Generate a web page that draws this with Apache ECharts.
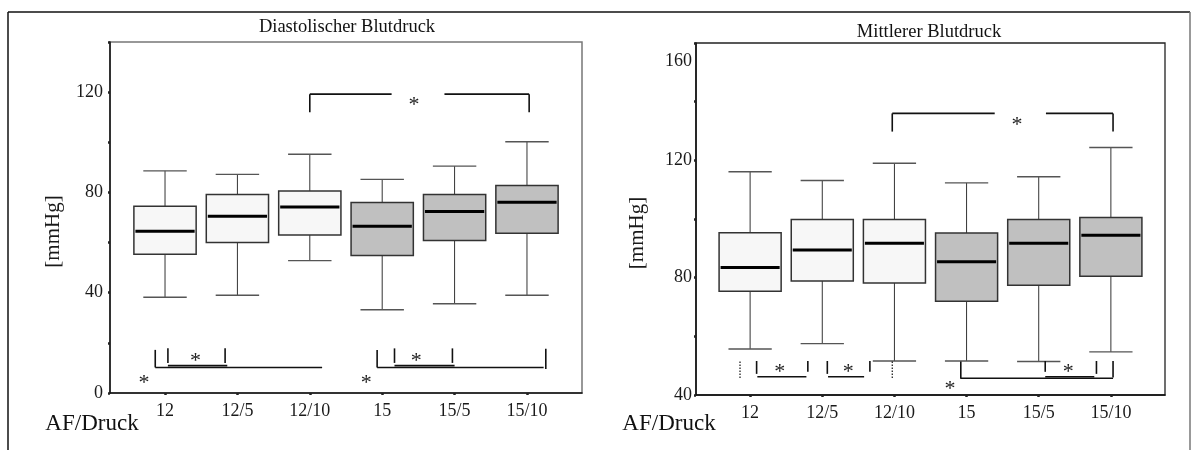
<!DOCTYPE html>
<html>
<head>
<meta charset="utf-8">
<script src="https://cdn.jsdelivr.net/npm/echarts/dist/echarts.min.js"></script>
<style>html,body{margin:0;padding:0;background:#fff}#chart{width:1191px;height:450px}</style>
</head>
<body>
<div id="chart"></div>
<script>
// ---------- data ----------
const categories = ['12', '12/5', '12/10', '15', '15/5', '15/10'];

// Diastolischer Blutdruck (mmHg)
const diaLow    = [38.2, 39.0, 52.8, 33.2, 35.6, 39.0];
const diaQ1     = [55.3, 60.0, 63.0, 54.8, 60.8, 63.7];
const diaMedian = [64.5, 70.5, 74.2, 66.5, 72.4, 76.1];
const diaQ3     = [74.5, 79.2, 80.6, 76.0, 79.2, 82.8];
const diaHigh   = [88.6, 87.2, 95.2, 85.2, 90.5, 100.2];

// Mittlerer Blutdruck (mmHg)
const meanLow    = [55.7, 57.5, 51.6, 51.6, 51.4, 54.7];
const meanQ1     = [75.4, 78.9, 78.2, 72.0, 77.4, 80.5];
const meanMedian = [83.5, 89.4, 91.7, 85.4, 91.7, 94.5];
const meanQ3     = [95.3, 99.8, 99.8, 95.2, 99.8, 100.5];
const meanHigh   = [116.1, 113.1, 119.0, 112.3, 114.4, 124.4];

// tick labels
const diaTickLabels  = [0, 40, 80, 120];
const meanTickLabels = [40, 80, 120, 160];

// significance brackets: [x1, y1, x2, y2] in (category index, mmHg)
const diaBrackets = [
  [2, 112, 2, 119.2], [2, 119.2, 3.13, 119.2], [3.86, 119.2, 5.03, 119.2], [5.03, 119.2, 5.03, 112],
  [-0.135, 17.2, -0.135, 10.2], [-0.135, 10.2, 2.17, 10.2],
  [0.04, 17.8, 0.04, 12], [0.04, 10.9, 0.86, 10.9], [0.83, 17.8, 0.83, 12],
  [2.93, 17.2, 2.93, 10.2], [2.93, 10.2, 5.23, 10.2], [5.26, 17.6, 5.26, 9.6],
  [3.17, 17.8, 3.17, 12], [3.17, 10.9, 4.0, 10.9], [3.97, 17.8, 3.97, 12]
];
const diaStars = [[3.44, 116.2], [0.42, 14.2], [-0.29, 5.6], [3.47, 14.2], [2.78, 5.6]];

const meanBrackets = [
  [1.97, 129.8, 1.97, 136], [1.97, 136, 3.39, 136], [4.10, 136, 5.03, 136], [5.03, 136, 5.03, 129.8],
  [0.09, 51.6, 0.09, 47.2], [0.10, 46.2, 0.78, 46.2], [0.80, 51.6, 0.80, 47.9],
  [1.07, 51.6, 1.07, 47.2], [1.08, 46.2, 1.58, 46.2], [1.66, 51.6, 1.66, 47.9],
  [2.92, 51.4, 2.92, 45.5], [2.92, 45.7, 5.03, 45.7], [5.03, 51.6, 5.03, 46.0],
  [4.09, 51.6, 4.09, 47.9], [4.09, 46.2, 4.77, 46.2], [4.80, 51.6, 4.80, 47.2]
];
const meanDotted = [[-0.14, 51.4, -0.14, 45.4], [1.97, 51.4, 1.97, 45.4]];
const meanStars = [[3.70, 133.2], [0.41, 49.1], [1.36, 49.1], [4.41, 49.1], [2.77, 43.4]];

// ---------- rendering ----------
const FONT = '"Liberation Serif", "Times New Roman", serif';
const LIGHT = '#f7f7f7', DARK = '#c0c0c0';

function boxData(lo, q1, med, q3, hi) {
  return categories.map((c, i) => [i, lo[i], q1[i], med[i], q3[i], hi[i]]);
}

function renderBox(params, api) {
  const i = api.value(0);
  const pLo = api.coord([i, api.value(1)]);
  const pQ1 = api.coord([i, api.value(2)]);
  const pMed = api.coord([i, api.value(3)]);
  const pQ3 = api.coord([i, api.value(4)]);
  const pHi = api.coord([i, api.value(5)]);
  const unit = api.size([1, 0])[0];
  const cx = pLo[0];
  const hw = unit * 0.43, cw = unit * 0.3;
  const fill = i < 3 ? LIGHT : DARK;
  return {
    type: 'group',
    children: [
      { type: 'line', shape: { x1: cx, y1: pQ3[1], x2: cx, y2: pHi[1] }, style: { stroke: '#333', lineWidth: 1 } },
      { type: 'line', shape: { x1: cx, y1: pQ1[1], x2: cx, y2: pLo[1] }, style: { stroke: '#333', lineWidth: 1 } },
      { type: 'line', shape: { x1: cx - cw, y1: pHi[1], x2: cx + cw, y2: pHi[1] }, style: { stroke: '#555', lineWidth: 1.4 } },
      { type: 'line', shape: { x1: cx - cw, y1: pLo[1], x2: cx + cw, y2: pLo[1] }, style: { stroke: '#555', lineWidth: 1.4 } },
      { type: 'rect', shape: { x: cx - hw, y: pQ3[1], width: 2 * hw, height: pQ1[1] - pQ3[1] }, style: { fill: fill, stroke: '#333', lineWidth: 1.5 } },
      { type: 'line', shape: { x1: cx - hw + 1.5, y1: pMed[1], x2: cx + hw - 1.5, y2: pMed[1] }, style: { stroke: '#000', lineWidth: 3 } }
    ]
  };
}

function renderSeg(dash) {
  return function (params, api) {
    const a = api.coord([api.value(0), api.value(1)]);
    const b = api.coord([api.value(2), api.value(3)]);
    return { type: 'line', shape: { x1: a[0], y1: a[1], x2: b[0], y2: b[1] },
      style: { stroke: '#111', lineWidth: dash ? 1.2 : 1.6, lineDash: dash ? [1.5, 1.5] : null } };
  };
}

function renderStar(params, api) {
  const p = api.coord([api.value(0), api.value(1)]);
  return { type: 'text', x: p[0], y: p[1] + 4,
    style: { text: '*', fontFamily: FONT, fontSize: 22, fill: '#222', align: 'center', verticalAlign: 'middle' } };
}

const labelStyle = { fontFamily: FONT, fontSize: 18, color: '#1a1a1a' };

const option = {
  animation: false,
  backgroundColor: '#fff',
  grid: [
    { left: 110, right: 609, top: 42, bottom: 57, show: true, borderColor: '#777', borderWidth: 1.5, backgroundColor: 'transparent' },
    { left: 696, right: 26, top: 43, bottom: 55, show: true, borderColor: '#222', borderWidth: 1.3, backgroundColor: 'transparent' }
  ],
  xAxis: [
    { gridIndex: 0, type: 'value', min: -0.76, max: 5.76,
      axisLine: { show: true, onZero: false, lineStyle: { color: '#111', width: 1.5 } },
      axisTick: { show: true, customValues: [0, 1, 2, 3, 4, 5], length: 2, lineStyle: { color: '#222', width: 2.5 } },
      axisLabel: { customValues: [0, 1, 2, 3, 4, 5], formatter: v => categories[Math.round(v)], margin: 9, ...labelStyle },
      splitLine: { show: false } },
    { gridIndex: 1, type: 'value', min: -0.75, max: 5.75,
      axisLine: { show: true, onZero: false, lineStyle: { color: '#111', width: 1.5 } },
      axisTick: { show: true, customValues: [0, 1, 2, 3, 4, 5], length: 2, lineStyle: { color: '#222', width: 2.5 } },
      axisLabel: { customValues: [0, 1, 2, 3, 4, 5], formatter: v => categories[Math.round(v)], margin: 9, ...labelStyle },
      splitLine: { show: false } }
  ],
  yAxis: [
    { gridIndex: 0, type: 'value', min: 0, max: 140, interval: 20,
      axisLine: { show: true, onZero: false, lineStyle: { color: '#111', width: 1.5 } },
      axisTick: { show: true, length: 2, lineStyle: { color: '#222', width: 2.5 } },
      axisLabel: { customValues: diaTickLabels, margin: 7, ...labelStyle },
      splitLine: { show: false },
      name: '[mmHg]', nameLocation: 'middle', nameRotate: 90, nameGap: 46,
      nameTextStyle: { fontFamily: FONT, fontSize: 21, color: '#1a1a1a', padding: [0, 28, 0, 0] } },
    { gridIndex: 1, type: 'value', min: 40, max: 160, interval: 20,
      axisLine: { show: true, onZero: false, lineStyle: { color: '#111', width: 1.5 } },
      axisTick: { show: true, length: 2, lineStyle: { color: '#222', width: 2.5 } },
      axisLabel: { customValues: meanTickLabels, margin: 4, ...labelStyle,
        formatter: v => v === 160 ? '{low|160}' : String(v),
        rich: { low: { fontFamily: FONT, fontSize: 18, color: '#1a1a1a', padding: [36, 0, 0, 0] } } },
      splitLine: { show: false },
      name: '[mmHg]', nameLocation: 'middle', nameRotate: 90, nameGap: 48,
      nameTextStyle: { fontFamily: FONT, fontSize: 21, color: '#1a1a1a', padding: [0, 28, 0, 0] } }
  ],
  graphic: [
    { type: 'line', shape: { x1: 8, y1: 12, x2: 1190, y2: 12 }, style: { stroke: '#111', lineWidth: 1.5 } },
    { type: 'line', shape: { x1: 8, y1: 12, x2: 8, y2: 450 }, style: { stroke: '#111', lineWidth: 1.5 } },
    { type: 'line', shape: { x1: 1190, y1: 12, x2: 1190, y2: 450 }, style: { stroke: '#777', lineWidth: 1.5 } },
    { type: 'text', x: 347, y: 27, style: { text: 'Diastolischer Blutdruck', fontFamily: FONT, fontSize: 18.5, fill: '#111', align: 'center', verticalAlign: 'middle' } },
    { type: 'text', x: 929, y: 32, style: { text: 'Mittlerer Blutdruck', fontFamily: FONT, fontSize: 18.5, fill: '#111', align: 'center', verticalAlign: 'middle' } },
    { type: 'text', x: 92, y: 424, style: { text: 'AF/Druck', fontFamily: FONT, fontSize: 23, fill: '#111', align: 'center', verticalAlign: 'middle' } },
    { type: 'text', x: 669, y: 424, style: { text: 'AF/Druck', fontFamily: FONT, fontSize: 23, fill: '#111', align: 'center', verticalAlign: 'middle' } }
  ],
  series: [
    { type: 'custom', xAxisIndex: 0, yAxisIndex: 0, renderItem: renderBox,
      data: boxData(diaLow, diaQ1, diaMedian, diaQ3, diaHigh), encode: { x: 0, y: [1, 2, 3, 4, 5] }, silent: true },
    { type: 'custom', xAxisIndex: 0, yAxisIndex: 0, renderItem: renderSeg(false),
      data: diaBrackets, encode: { x: [0, 2], y: [1, 3] }, silent: true },
    { type: 'custom', xAxisIndex: 0, yAxisIndex: 0, renderItem: renderStar,
      data: diaStars, encode: { x: 0, y: 1 }, silent: true },
    { type: 'custom', xAxisIndex: 1, yAxisIndex: 1, renderItem: renderBox,
      data: boxData(meanLow, meanQ1, meanMedian, meanQ3, meanHigh), encode: { x: 0, y: [1, 2, 3, 4, 5] }, silent: true },
    { type: 'custom', xAxisIndex: 1, yAxisIndex: 1, renderItem: renderSeg(false),
      data: meanBrackets, encode: { x: [0, 2], y: [1, 3] }, silent: true },
    { type: 'custom', xAxisIndex: 1, yAxisIndex: 1, renderItem: renderSeg(true),
      data: meanDotted, encode: { x: [0, 2], y: [1, 3] }, silent: true },
    { type: 'custom', xAxisIndex: 1, yAxisIndex: 1, renderItem: renderStar,
      data: meanStars, encode: { x: 0, y: 1 }, silent: true }
  ]
};

const chart = echarts.init(document.getElementById('chart'), null, { renderer: 'canvas' });
chart.setOption(option);
</script>
</body>
</html>
